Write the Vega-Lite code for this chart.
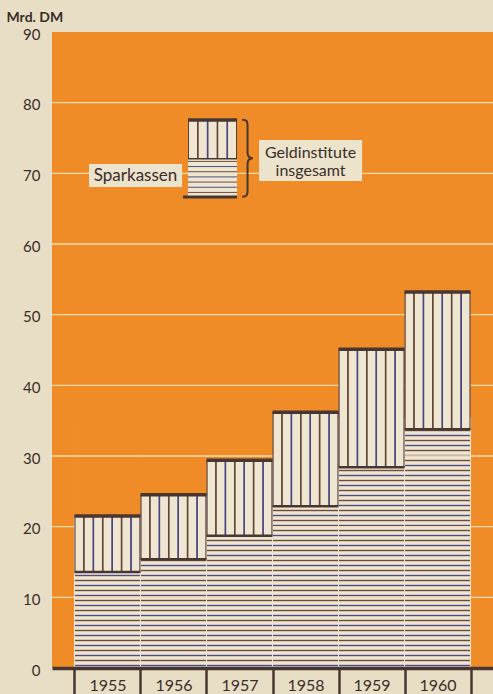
{
  "$schema": "https://vega.github.io/schema/vega-lite/v6.json",
  "autosize": {"type": "none"},
  "width": 441,
  "height": 636,
  "padding": {"left": 52, "top": 32, "right": 0, "bottom": 26},
  "background": "#e8dec6",
  "title": {"text": "Bestand am Jahresende", "anchor": "middle", "frame": "group", "offset": 2, "dy": 6, "baseline": "alphabetic", "font": "Lato", "fontSize": 16, "fontWeight": "normal", "color": "#3b2d28"},
  "config": {"view": {"fill": "#ef8c28", "stroke": null}},
  "data": {"values": [
    {"year": 1955, "sparkassen": 13.6, "total": 21.5},
    {"year": 1956, "sparkassen": 15.4, "total": 24.5},
    {"year": 1957, "sparkassen": 18.7, "total": 29.4},
    {"year": 1958, "sparkassen": 22.9, "total": 36.2},
    {"year": 1959, "sparkassen": 28.4, "total": 45.1},
    {"year": 1960, "sparkassen": 33.8, "total": 53.2}
  ]},
  "layer": [
    {
      "mark": {"type": "bar", "width": 66, "stroke": "#efe6d1", "strokeWidth": 1, "color": {"gradient": "linear", "x1": 0, "y1": 0, "x2": 0, "y2": 1, "stops": [
        {"offset":0.005,"color":"#efe6d1"},{"offset":0.01,"color":"#6b4a3c"},{"offset":0.015,"color":"#efe6d1"},
        {"offset":0.025,"color":"#efe6d1"},{"offset":0.03,"color":"#4f4a84"},{"offset":0.035,"color":"#efe6d1"},
        {"offset":0.045,"color":"#efe6d1"},{"offset":0.05,"color":"#6b4a3c"},{"offset":0.055,"color":"#efe6d1"},
        {"offset":0.065,"color":"#efe6d1"},{"offset":0.07,"color":"#4f4a84"},{"offset":0.075,"color":"#efe6d1"},
        {"offset":0.085,"color":"#efe6d1"},{"offset":0.09,"color":"#6b4a3c"},{"offset":0.095,"color":"#efe6d1"},
        {"offset":0.105,"color":"#efe6d1"},{"offset":0.11,"color":"#4f4a84"},{"offset":0.115,"color":"#efe6d1"},
        {"offset":0.125,"color":"#efe6d1"},{"offset":0.13,"color":"#6b4a3c"},{"offset":0.135,"color":"#efe6d1"},
        {"offset":0.145,"color":"#efe6d1"},{"offset":0.15,"color":"#4f4a84"},{"offset":0.155,"color":"#efe6d1"},
        {"offset":0.165,"color":"#efe6d1"},{"offset":0.17,"color":"#6b4a3c"},{"offset":0.175,"color":"#efe6d1"},
        {"offset":0.185,"color":"#efe6d1"},{"offset":0.19,"color":"#4f4a84"},{"offset":0.195,"color":"#efe6d1"},
        {"offset":0.205,"color":"#efe6d1"},{"offset":0.21,"color":"#6b4a3c"},{"offset":0.215,"color":"#efe6d1"},
        {"offset":0.225,"color":"#efe6d1"},{"offset":0.23,"color":"#4f4a84"},{"offset":0.235,"color":"#efe6d1"},
        {"offset":0.245,"color":"#efe6d1"},{"offset":0.25,"color":"#6b4a3c"},{"offset":0.255,"color":"#efe6d1"},
        {"offset":0.265,"color":"#efe6d1"},{"offset":0.27,"color":"#4f4a84"},{"offset":0.275,"color":"#efe6d1"},
        {"offset":0.285,"color":"#efe6d1"},{"offset":0.29,"color":"#6b4a3c"},{"offset":0.295,"color":"#efe6d1"},
        {"offset":0.305,"color":"#efe6d1"},{"offset":0.31,"color":"#4f4a84"},{"offset":0.315,"color":"#efe6d1"},
        {"offset":0.325,"color":"#efe6d1"},{"offset":0.33,"color":"#6b4a3c"},{"offset":0.335,"color":"#efe6d1"},
        {"offset":0.345,"color":"#efe6d1"},{"offset":0.35,"color":"#4f4a84"},{"offset":0.355,"color":"#efe6d1"},
        {"offset":0.365,"color":"#efe6d1"},{"offset":0.37,"color":"#6b4a3c"},{"offset":0.375,"color":"#efe6d1"},
        {"offset":0.385,"color":"#efe6d1"},{"offset":0.39,"color":"#4f4a84"},{"offset":0.395,"color":"#efe6d1"},
        {"offset":0.405,"color":"#efe6d1"},{"offset":0.41,"color":"#6b4a3c"},{"offset":0.415,"color":"#efe6d1"},
        {"offset":0.425,"color":"#efe6d1"},{"offset":0.43,"color":"#4f4a84"},{"offset":0.435,"color":"#efe6d1"},
        {"offset":0.445,"color":"#efe6d1"},{"offset":0.45,"color":"#6b4a3c"},{"offset":0.455,"color":"#efe6d1"},
        {"offset":0.465,"color":"#efe6d1"},{"offset":0.47,"color":"#4f4a84"},{"offset":0.475,"color":"#efe6d1"},
        {"offset":0.485,"color":"#efe6d1"},{"offset":0.49,"color":"#6b4a3c"},{"offset":0.495,"color":"#efe6d1"},
        {"offset":0.505,"color":"#efe6d1"},{"offset":0.51,"color":"#4f4a84"},{"offset":0.515,"color":"#efe6d1"},
        {"offset":0.525,"color":"#efe6d1"},{"offset":0.53,"color":"#6b4a3c"},{"offset":0.535,"color":"#efe6d1"},
        {"offset":0.545,"color":"#efe6d1"},{"offset":0.55,"color":"#4f4a84"},{"offset":0.555,"color":"#efe6d1"},
        {"offset":0.565,"color":"#efe6d1"},{"offset":0.57,"color":"#6b4a3c"},{"offset":0.575,"color":"#efe6d1"},
        {"offset":0.585,"color":"#efe6d1"},{"offset":0.59,"color":"#4f4a84"},{"offset":0.595,"color":"#efe6d1"},
        {"offset":0.605,"color":"#efe6d1"},{"offset":0.61,"color":"#6b4a3c"},{"offset":0.615,"color":"#efe6d1"},
        {"offset":0.625,"color":"#efe6d1"},{"offset":0.63,"color":"#4f4a84"},{"offset":0.635,"color":"#efe6d1"},
        {"offset":0.645,"color":"#efe6d1"},{"offset":0.65,"color":"#6b4a3c"},{"offset":0.655,"color":"#efe6d1"},
        {"offset":0.665,"color":"#efe6d1"},{"offset":0.67,"color":"#4f4a84"},{"offset":0.675,"color":"#efe6d1"},
        {"offset":0.685,"color":"#efe6d1"},{"offset":0.69,"color":"#6b4a3c"},{"offset":0.695,"color":"#efe6d1"},
        {"offset":0.705,"color":"#efe6d1"},{"offset":0.71,"color":"#4f4a84"},{"offset":0.715,"color":"#efe6d1"},
        {"offset":0.725,"color":"#efe6d1"},{"offset":0.73,"color":"#6b4a3c"},{"offset":0.735,"color":"#efe6d1"},
        {"offset":0.745,"color":"#efe6d1"},{"offset":0.75,"color":"#4f4a84"},{"offset":0.755,"color":"#efe6d1"},
        {"offset":0.765,"color":"#efe6d1"},{"offset":0.77,"color":"#6b4a3c"},{"offset":0.775,"color":"#efe6d1"},
        {"offset":0.785,"color":"#efe6d1"},{"offset":0.79,"color":"#4f4a84"},{"offset":0.795,"color":"#efe6d1"},
        {"offset":0.805,"color":"#efe6d1"},{"offset":0.81,"color":"#6b4a3c"},{"offset":0.815,"color":"#efe6d1"},
        {"offset":0.825,"color":"#efe6d1"},{"offset":0.83,"color":"#4f4a84"},{"offset":0.835,"color":"#efe6d1"},
        {"offset":0.845,"color":"#efe6d1"},{"offset":0.85,"color":"#6b4a3c"},{"offset":0.855,"color":"#efe6d1"},
        {"offset":0.865,"color":"#efe6d1"},{"offset":0.87,"color":"#4f4a84"},{"offset":0.875,"color":"#efe6d1"},
        {"offset":0.885,"color":"#efe6d1"},{"offset":0.89,"color":"#6b4a3c"},{"offset":0.895,"color":"#efe6d1"},
        {"offset":0.905,"color":"#efe6d1"},{"offset":0.91,"color":"#4f4a84"},{"offset":0.915,"color":"#efe6d1"},
        {"offset":0.925,"color":"#efe6d1"},{"offset":0.93,"color":"#6b4a3c"},{"offset":0.935,"color":"#efe6d1"},
        {"offset":0.945,"color":"#efe6d1"},{"offset":0.95,"color":"#4f4a84"},{"offset":0.955,"color":"#efe6d1"},
        {"offset":0.965,"color":"#efe6d1"},{"offset":0.97,"color":"#6b4a3c"},{"offset":0.975,"color":"#efe6d1"},
        {"offset":0.985,"color":"#efe6d1"},{"offset":0.99,"color":"#4f4a84"},{"offset":0.995,"color":"#efe6d1"}
      ]}},
      "encoding": {
        "x": {"field": "year", "type": "quantitative", "scale": {"domain": [1954.16, 1960.84], "nice": false, "zero": false, "padding": 0},
          "axis": {"title": null, "values": [1954.5, 1955.5, 1956.5, 1957.5, 1958.5, 1959.5, 1960.5], "labelExpr": "datum.value < 1960 ? '' + (datum.value + 0.5) : ''", "labelOffset": 33, "labelFlush": false, "labelOverlap": false, "labelAngle": 0, "labelFont": "Lato", "labelFontSize": 16, "labelFontWeight": "normal", "labelColor": "#3b2d28", "labelBaseline": "alphabetic", "labelPadding": -4, "ticks": true, "tickSize": 26, "tickWidth": 2.5, "tickColor": "#4a3631", "domain": true, "domainColor": "#4a3631", "domainWidth": 3.5, "grid": false, "zindex": 1}},
        "y": {"datum": 35.375, "type": "quantitative", "scale": {"domain": [0, 90], "nice": false, "zero": true},
          "axis": {"title": "Mrd. DM", "titleAngle": 0, "titleAlign": "left", "titleBaseline": "alphabetic", "titleX": -46, "titleY": -11, "titleFont": "Lato", "titleFontSize": 14, "titleFontWeight": "bold", "titleColor": "#3b2d28", "labelFont": "Lato", "labelFontSize": 15, "labelFontWeight": "normal", "labelColor": "#3b2d28", "labelPadding": 12, "labelOffset": 2, "labelFlush": false, "ticks": false, "domain": false, "grid": false, "values": [0, 10, 20, 30, 40, 50, 60, 70, 80, 90]}},
        "y2": {"datum": 0}
      }
    },
    {
      "mark": {"type": "bar", "width": 66, "color": "#ef8c28", "stroke": "#ef8c28", "strokeWidth": 1.2},
      "encoding": {
        "x": {"field": "year", "type": "quantitative"},
        "y": {"field": "total", "type": "quantitative"},
        "y2": {"datum": 35.7}
      }
    },
    {
      "data": {"values": [{"g": 10}, {"g": 20}, {"g": 30}, {"g": 40}, {"g": 50}, {"g": 60}, {"g": 70}, {"g": 80}]},
      "mark": {"type": "rule", "color": "#f7dcac", "strokeWidth": 1.3},
      "encoding": {"y": {"field": "g", "type": "quantitative"}}
    },
    {
      "mark": {"type": "bar", "width": 66, "color": {"gradient": "linear", "x1": 0, "y1": 0, "x2": 1, "y2": 0, "stops": [
        {"offset":0,"color":"#5a3f40"},{"offset":0.011,"color":"#5a3f40"},{"offset":0.022,"color":"#efe6d1"},
        {"offset":0.123,"color":"#efe6d1"},{"offset":0.137,"color":"#654538"},{"offset":0.149,"color":"#654538"},{"offset":0.163,"color":"#efe6d1"},
        {"offset":0.266,"color":"#efe6d1"},{"offset":0.28,"color":"#4a4580"},{"offset":0.292,"color":"#4a4580"},{"offset":0.306,"color":"#efe6d1"},
        {"offset":0.409,"color":"#efe6d1"},{"offset":0.423,"color":"#654538"},{"offset":0.435,"color":"#654538"},{"offset":0.449,"color":"#efe6d1"},
        {"offset":0.551,"color":"#efe6d1"},{"offset":0.565,"color":"#4a4580"},{"offset":0.577,"color":"#4a4580"},{"offset":0.591,"color":"#efe6d1"},
        {"offset":0.694,"color":"#efe6d1"},{"offset":0.708,"color":"#654538"},{"offset":0.72,"color":"#654538"},{"offset":0.734,"color":"#efe6d1"},
        {"offset":0.837,"color":"#efe6d1"},{"offset":0.851,"color":"#4a4580"},{"offset":0.863,"color":"#4a4580"},{"offset":0.877,"color":"#efe6d1"},
        {"offset":0.978,"color":"#efe6d1"},{"offset":0.989,"color":"#5a3f40"},{"offset":1,"color":"#5a3f40"}
      ]}},
      "encoding": {
        "x": {"field": "year", "type": "quantitative"},
        "y": {"field": "total", "type": "quantitative"},
        "y2": {"field": "sparkassen"}
      }
    },
    {
      "mark": {"type": "tick", "orient": "horizontal", "color": "#4a3631", "thickness": 2.5, "size": 66, "opacity": 1},
      "encoding": {
        "x": {"field": "year", "type": "quantitative"},
        "y": {"field": "sparkassen", "type": "quantitative"}
      }
    },
    {
      "mark": {"type": "tick", "orient": "horizontal", "color": "#4a3631", "thickness": 3.5, "size": 66, "opacity": 1},
      "encoding": {
        "x": {"field": "year", "type": "quantitative"},
        "y": {"field": "total", "type": "quantitative"}
      }
    },
    {
      "data": {"values": [{"s": "Sparkassen", "g1": "Geldinstitute", "g2": "insgesamt"}]},
      "layer": [
        {
          "mark": {"type": "rect", "color": "#ece3cd"},
          "encoding": {
            "x": {"datum": 1954.7206, "type": "quantitative"}, "x2": {"datum": 1956.1297},
            "y": {"datum": 71.32, "type": "quantitative"}, "y2": {"datum": 68.07}
          }
        },
        {
          "mark": {"type": "rect", "color": "#ece3cd"},
          "encoding": {
            "x": {"datum": 1957.2964, "type": "quantitative"}, "x2": {"datum": 1958.857},
            "y": {"datum": 74.72, "type": "quantitative"}, "y2": {"datum": 68.91}
          }
        },
        {
          "mark": {"type": "rect", "color": {"gradient": "linear", "x1": 0, "y1": 0, "x2": 1, "y2": 0, "stops": [
            {"offset":0,"color":"#5a3f40"},{"offset":0.015,"color":"#5a3f40"},{"offset":0.03,"color":"#efe6d1"},
            {"offset":0.173,"color":"#efe6d1"},{"offset":0.192,"color":"#654538"},{"offset":0.208,"color":"#654538"},{"offset":0.227,"color":"#efe6d1"},
            {"offset":0.373,"color":"#efe6d1"},{"offset":0.392,"color":"#4a4580"},{"offset":0.408,"color":"#4a4580"},{"offset":0.427,"color":"#efe6d1"},
            {"offset":0.573,"color":"#efe6d1"},{"offset":0.592,"color":"#654538"},{"offset":0.608,"color":"#654538"},{"offset":0.627,"color":"#efe6d1"},
            {"offset":0.773,"color":"#efe6d1"},{"offset":0.792,"color":"#4a4580"},{"offset":0.808,"color":"#4a4580"},{"offset":0.827,"color":"#efe6d1"},
            {"offset":0.97,"color":"#efe6d1"},{"offset":0.985,"color":"#5a3f40"},{"offset":1,"color":"#5a3f40"}
          ]}},
          "encoding": {
            "x": {"datum": 1956.2206, "type": "quantitative"}, "x2": {"datum": 1956.963},
            "y": {"datum": 77.4, "type": "quantitative"}, "y2": {"datum": 72.07}
          }
        },
        {
          "mark": {"type": "rect", "color": {"gradient": "linear", "x1": 0, "y1": 0, "x2": 0, "y2": 1, "stops": [
            {"offset":0.044,"color":"#efe6d1"},{"offset":0.07,"color":"#6b4a3c"},{"offset":0.096,"color":"#efe6d1"},
            {"offset":0.179,"color":"#efe6d1"},{"offset":0.205,"color":"#4f4a84"},{"offset":0.231,"color":"#efe6d1"},
            {"offset":0.314,"color":"#efe6d1"},{"offset":0.34,"color":"#6b4a3c"},{"offset":0.366,"color":"#efe6d1"},
            {"offset":0.449,"color":"#efe6d1"},{"offset":0.475,"color":"#4f4a84"},{"offset":0.501,"color":"#efe6d1"},
            {"offset":0.584,"color":"#efe6d1"},{"offset":0.61,"color":"#6b4a3c"},{"offset":0.636,"color":"#efe6d1"},
            {"offset":0.719,"color":"#efe6d1"},{"offset":0.745,"color":"#4f4a84"},{"offset":0.771,"color":"#efe6d1"},
            {"offset":0.854,"color":"#efe6d1"},{"offset":0.88,"color":"#6b4a3c"},{"offset":0.906,"color":"#efe6d1"}
          ]}},
          "encoding": {
            "x": {"datum": 1956.2206, "type": "quantitative"}, "x2": {"datum": 1956.963},
            "y": {"datum": 72.07, "type": "quantitative"}, "y2": {"datum": 66.65}
          }
        },
        {
          "mark": {"type": "rule", "color": "#4a3631", "strokeWidth": 3.5},
          "encoding": {
            "x": {"datum": 1956.2206, "type": "quantitative"}, "x2": {"datum": 1956.963},
            "y": {"datum": 77.55, "type": "quantitative"}
          }
        },
        {
          "mark": {"type": "rule", "color": "#4a3631", "strokeWidth": 1.5},
          "encoding": {
            "x": {"datum": 1956.2206, "type": "quantitative"}, "x2": {"datum": 1956.963},
            "y": {"datum": 72.07, "type": "quantitative"}
          }
        },
        {
          "mark": {"type": "rule", "color": "#4a3631", "strokeWidth": 3},
          "encoding": {
            "x": {"datum": 1956.1448, "type": "quantitative"}, "x2": {"datum": 1956.963},
            "y": {"datum": 66.65, "type": "quantitative"}
          }
        },
        {
          "mark": {"type": "point", "shape": "M -0.14 -1 C -0.02 -1 0 -0.96 0 -0.85 L 0 -0.15 C 0 -0.05 0.05 0 0.14 0 C 0.05 0 0 0.05 0 0.15 L 0 0.85 C 0 0.96 -0.02 1 -0.14 1", "size": 5929, "filled": false, "color": "#4a3631", "strokeWidth": 2, "opacity": 1},
          "encoding": {
            "x": {"datum": 1957.1221, "type": "quantitative"},
            "y": {"datum": 72.14, "type": "quantitative"}
          }
        },
        {
          "mark": {"type": "text", "font": "Lato", "fontSize": 17, "color": "#3b2d28", "align": "center", "baseline": "alphabetic"},
          "encoding": {
            "x": {"datum": 1955.4252, "type": "quantitative"},
            "y": {"datum": 68.91, "type": "quantitative"},
            "text": {"field": "s"}
          }
        },
        {
          "mark": {"type": "text", "font": "Lato", "fontSize": 16, "color": "#3b2d28", "align": "center", "baseline": "alphabetic"},
          "encoding": {
            "x": {"datum": 1958.0767, "type": "quantitative"},
            "y": {"datum": 72.17, "type": "quantitative"},
            "text": {"field": "g1"}
          }
        },
        {
          "mark": {"type": "text", "font": "Lato", "fontSize": 16, "color": "#3b2d28", "align": "center", "baseline": "alphabetic"},
          "encoding": {
            "x": {"datum": 1958.0767, "type": "quantitative"},
            "y": {"datum": 69.62, "type": "quantitative"},
            "text": {"field": "g2"}
          }
        }
      ]
    }
  ]
}
